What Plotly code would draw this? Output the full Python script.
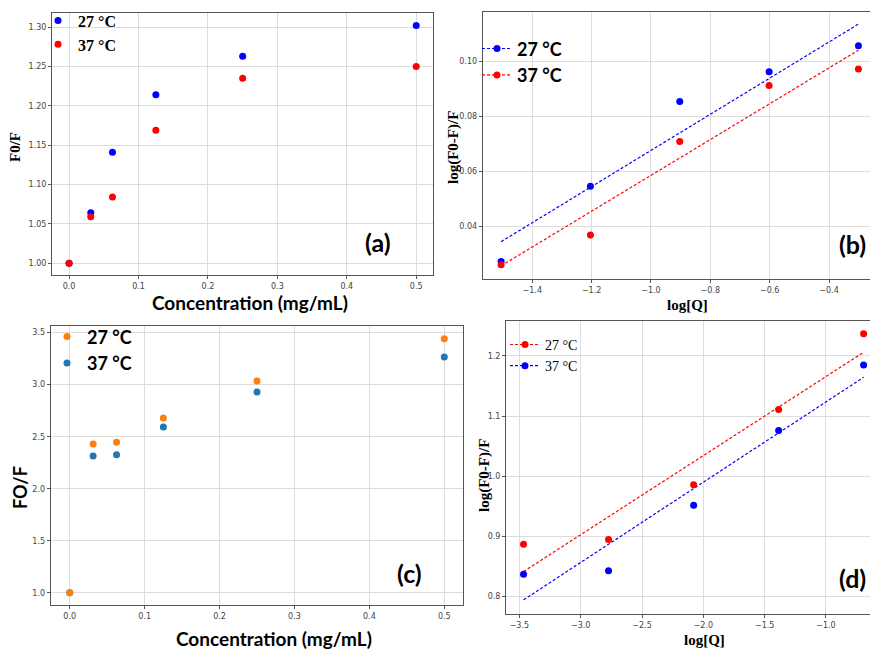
import plotly.graph_objects as go

W, H = 870, 649

# ---------------- data ----------------
conc = [0.0, 0.03125, 0.0625, 0.125, 0.25, 0.5]
a_27 = [1.000, 1.064, 1.141, 1.214, 1.263, 1.302]
a_37 = [1.000, 1.059, 1.084, 1.169, 1.235, 1.250]

logq_b = [-1.505, -1.204, -0.903, -0.602, -0.301]
b_27 = [0.0271, 0.0545, 0.0854, 0.0962, 0.1057]
b_37 = [0.0259, 0.0367, 0.0708, 0.0912, 0.0972]
b_fit_x = [-1.505, -0.301]
b_fit_27 = [0.0343, 0.1136]
b_fit_37 = [0.0255, 0.1041]

c_27 = [1.000, 2.430, 2.446, 2.679, 3.035, 3.442]
c_37 = [1.000, 2.314, 2.327, 2.593, 2.929, 3.266]

logq_d = [-3.466, -2.773, -2.079, -1.386, -0.693]
d_27 = [0.887, 0.895, 0.986, 1.111, 1.237]
d_37 = [0.837, 0.843, 0.952, 1.076, 1.185]
d_fit_x = [-3.466, -0.693]
d_fit_27 = [0.8416, 1.2061]
d_fit_37 = [0.7945, 1.1645]

labels = ["27 °C", "37 °C"]

a_xticks = [0.0, 0.1, 0.2, 0.3, 0.4, 0.5]
a_yticks = [1.00, 1.05, 1.10, 1.15, 1.20, 1.25, 1.30]
b_xticks = [-1.4, -1.2, -1.0, -0.8, -0.6, -0.4]
b_yticks = [0.04, 0.06, 0.08, 0.10]
c_xticks = [0.0, 0.1, 0.2, 0.3, 0.4, 0.5]
c_yticks = [1.0, 1.5, 2.0, 2.5, 3.0, 3.5]
d_xticks = [-3.5, -3.0, -2.5, -2.0, -1.5, -1.0]
d_yticks = [0.8, 0.9, 1.0, 1.1, 1.2]

# ---------------- helpers ----------------
def px_x(p):
    return p / W

def px_y(p):
    return 1 - p / H

SERIF = "Liberation Serif"
SANS = "Lato"
TICKFONT = dict(family="DejaVu Sans", size=8, color="#444444")
DASH = "3px,2px"

fig = go.Figure()

def mk(color):
    return dict(color=color, size=7)

def pts(x, y, color, xa, ya, name=None, legend=None, rank=None):
    show = name is not None
    fig.add_trace(go.Scatter(x=x, y=y, mode="markers", marker=mk(color), cliponaxis=False,
                             name=name, showlegend=show, legend=legend, legendrank=rank,
                             xaxis=xa, yaxis=ya))

def fitline(x, y, color, xa, ya):
    fig.add_trace(go.Scatter(x=x, y=y, mode="lines", line=dict(color=color, width=1.2, dash=DASH),
                             showlegend=False, xaxis=xa, yaxis=ya, hoverinfo="skip"))

def legend_key(name, color, xa, ya, legend, rank):
    # legend-only entry showing the dashed line with a marker (draws nothing on the axes)
    fig.add_trace(go.Scatter(x=[None], y=[None], mode="lines+markers", marker=mk(color),
                             line=dict(color=color, width=1.2, dash=DASH),
                             name=name, legend=legend, legendrank=rank, xaxis=xa, yaxis=ya))

# Panel (a)
pts(conc, a_27, "#0000ff", "x", "y", labels[0], "legend", 1)
pts(conc, a_37, "#ff0000", "x", "y", labels[1], "legend", 2)

# Panel (b)
fitline(b_fit_x, b_fit_27, "#0000ff", "x2", "y2")
fitline(b_fit_x, b_fit_37, "#ff0000", "x2", "y2")
pts(logq_b, b_27, "#0000ff", "x2", "y2")
pts(logq_b, b_37, "#ff0000", "x2", "y2")
legend_key(labels[0], "#0000ff", "x2", "y2", "legend2", 1)
legend_key(labels[1], "#ff0000", "x2", "y2", "legend2", 2)

# Panel (c)
pts(conc, c_37, "#1f77b4", "x3", "y3", labels[1], "legend3", 2)
pts(conc, c_27, "#ff7f0e", "x3", "y3", labels[0], "legend3", 1)

# Panel (d)
fitline(d_fit_x, d_fit_27, "#ff0000", "x4", "y4")
fitline(d_fit_x, d_fit_37, "#0000ff", "x4", "y4")
pts(logq_d, d_27, "#ff0000", "x4", "y4")
pts(logq_d, d_37, "#0000ff", "x4", "y4")
legend_key(labels[0], "#ff0000", "x4", "y4", "legend4", 1)
legend_key(labels[1], "#0000ff", "x4", "y4", "legend4", 2)

def axis(domain, rng, ticks, fmt, anchor):
    return dict(domain=domain, range=rng, tickvals=ticks, tickformat=fmt, anchor=anchor,
                showgrid=True, gridcolor="#dcdcdc", gridwidth=1, zeroline=False,
                showline=True, linecolor="#555555", linewidth=1, mirror=True,
                ticks="outside", ticklen=3, tickcolor="#555555", tickfont=TICKFONT)

def leg(x, row1, fs, family, bold=True):
    top = row1 - 5 - 0.65 * fs
    f = dict(family=family, size=fs, color="black")
    if bold:
        f["weight"] = "bold"
    return dict(x=px_x(x), y=px_y(top), xanchor="left", yanchor="top",
                bgcolor="rgba(0,0,0,0)", font=f, itemwidth=30)

fig.update_layout(
    width=W, height=H, margin=dict(l=0, r=0, t=0, b=0),
    paper_bgcolor="white", plot_bgcolor="white",
    xaxis=axis([px_x(52), px_x(433.3)], [-0.0246, 0.5246], a_xticks, ".1f", "y"),
    yaxis=axis([px_y(275), px_y(13)], [0.985, 1.318], a_yticks, ".2f", "x"),
    xaxis2=axis([px_x(482.7), px_x(870)], [-1.567, -0.262], b_xticks, ".1f", "y2"),
    yaxis2=axis([px_y(279), px_y(12.3)], [0.0207, 0.1179], b_yticks, ".2f", "x2"),
    xaxis3=axis([px_x(50.7), px_x(463.3)], [-0.0254, 0.5254], c_xticks, ".1f", "y3"),
    yaxis3=axis([px_y(605), px_y(325.7)], [0.882, 3.567], c_yticks, ".1f", "x3"),
    xaxis4=axis([px_x(506), px_x(870)], [-3.609, -0.641], d_xticks, ".1f", "y4"),
    yaxis4=axis([px_y(614), px_y(320.7)], [0.771, 1.2586], d_yticks, ".1f", "x4"),
    legend=leg(38, 19, 16, SERIF),
    legend2=leg(477, 47, 18, SANS),
    legend3=leg(47, 335, 18, SANS),
    legend4=leg(505, 343, 14, SERIF, bold=False),
    showlegend=True,
)

def ann(text, x, y, font, angle=0):
    fig.add_annotation(text=text, x=px_x(x), y=px_y(y), xref="paper", yref="paper",
                       showarrow=False, xanchor="center", yanchor="middle", textangle=angle, font=font)

# axis titles
ann("F0/F", 15, 147, dict(family=SERIF, size=15, color="black", weight="bold"), -90)
ann("Concentration (mg/mL)", 250, 302, dict(family=SANS, size=19, color="black", weight="bold"))
ann("log(F0-F)/F", 453, 148, dict(family=SERIF, size=15, color="black", weight="bold"), -90)
ann("log[Q]", 687, 305, dict(family=SERIF, size=15, color="black", weight="bold"))
ann("FO/F", 20, 488, dict(family=SANS, size=18, color="black", weight="bold"), -90)
ann("Concentration (mg/mL)", 274, 638, dict(family=SANS, size=19, color="black", weight="bold"))
ann("log(F0-F)/F", 484, 475, dict(family=SERIF, size=15, color="black", weight="bold"), -90)
ann("log[Q]", 704, 640, dict(family=SERIF, size=15, color="black", weight="bold"))

# panel labels
PL = dict(family=SANS, size=25, color="black", weight="bold")
ann("(a)", 378, 242, PL)
ann("(b)", 852, 244, PL)
ann("(c)", 409, 573, PL)
ann("(d)", 852, 578, PL)

fig.write_html(
    "out.html",
    config={"displayModeBar": False},
    post_script="document.body.style.margin='0';document.body.style.overflow='hidden';",
)
